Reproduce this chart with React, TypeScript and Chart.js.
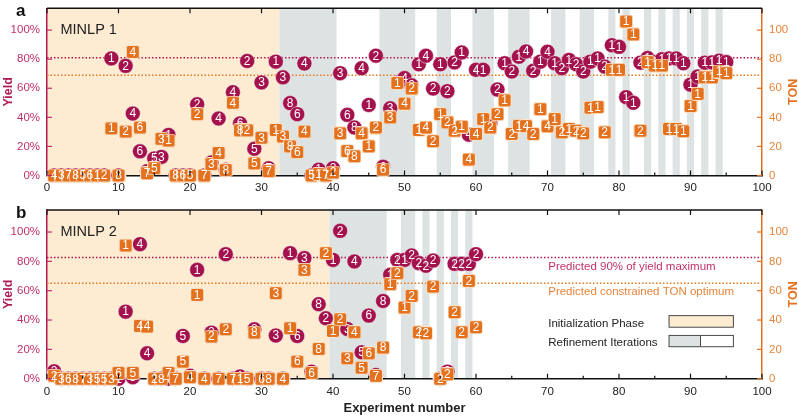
import React, { useEffect, useRef } from 'react';
import { Chart, registerables } from 'chart.js';
Chart.register(...registerables);

const FONT = "'Liberation Sans', Arial, Helvetica, sans-serif";
const CRIMSON = '#a3124d';
const CRIMSON_TEXT = '#c0306a';
const ORANGE = '#e3711e';
const ORANGE_TEXT = '#e8843a';
const PEACH = '#fdebd2';
const GRAY_BAND = '#dce3e2';
const DARK = '#222222';

// ---------- Panel a (MINLP 1) ----------
const expA = [1,2,3,4,5,6,7,8,9,10,11,12,13,14,15,16,17,18,19,20,21,22,23,24,25,26,27,28,29,30,31,32,33,34,35,36,37,38,39,40,41,42,43,44,45,46,47,48,49,50,51,52,53,54,55,56,57,58,59,60,61,62,63,64,65,66,67,68,69,70,71,72,73,74,75,76,77,78,79,80,81,82,83,84,85,86,87,88,89,90,91,92,93,94,95];
const yieldA = [0,0,0,0,0,0,0,0,80.5,0,75.4,42.6,16.6,3,11.7,12.8,27.9,0,0,0,49,0,9,39.2,4,57.3,35.8,78.8,18.4,64,5,78.3,67.5,49.8,42.2,77,0,4,0,5,70.4,41.7,33,73.8,48.5,82.4,6,46.2,64,67,62,76.5,82.4,59.8,76.5,58,77.8,84.6,28.1,72.7,72.7,36,59.1,77.2,71.5,81.7,85.3,72,78.3,85.1,77.2,73.8,79.5,76.5,71.5,78.3,80.5,74.9,89.6,88.5,53.9,50,77.6,80.8,78,80,80.5,80.5,77.2,62.5,68.1,77.6,77.8,79,78];
const tonA = [0,0,0,0,0,0,0,0,32.4,0,30.2,85,33,1.5,5,25.2,24,0,0,0,42.2,0,7.8,15.5,3.7,50,31,31,8.3,26,3,31.3,26.8,20,16.1,30.2,0,1,0,2,29,16.8,13.2,29,20,33,4,39.9,63.6,49.4,59.8,31.3,33,23.6,42.2,36.5,30.8,33.6,11,28.6,38.8,33,42.2,51.7,28.6,34.2,34,28.6,45.6,33.8,38.8,29.7,32,30.8,29,46.6,47.1,29.7,72.7,72.7,105.9,97,30.8,78,75.6,75.6,32,32,30.4,47.8,56.1,67.5,67.5,71.5,70.4];
const yieldLabelsA = ['4','3','7','8','5','6','1','2','1','8','2','4','6','7','5','3','1','8','6','5','2','7','3','4','8','4','6','2','5','3','7','1','3','8','6','4','5','1','7','2','3','6','8','4','1','2','6','3','1','4','2','1','4','2','1','2','2','1','4','4','1','2','2','1','2','1','4','2','1','4','1','2','1','2','2','1','1','2','1','1','1','1','2','1','1','1','1','1','1','1','1','1','1','1','1'];
const tonLabelsA = ['4','3','7','8','5','6','1','2','1','8','2','4','6','7','5','3','1','8','6','5','2','7','3','4','8','4','8','2','5','3','7','1','3','8','6','4','5','1','7','2','3','6','8','4','1','2','6','3','1','4','2','1','4','2','1','2','2','1','4','4','1','2','2','1','2','1','4','2','1','4','1','2','1','2','2','1','1','2','1','1','1','1','2','1','1','1','1','1','1','1','1','1','1','1','1'];
const initEndA = 32.5;
const bandsA = [[32.5,40.5],[46.5,51.5],[54.5,56.5],[59.5,62.5],[64.5,67.5],[70.5,72.5],[74.5,76.5],[78.5,79.5],[80.5,81.5],[83.5,84.5],[85.5,86.5],[87.5,88.5],[89.5,90.5],[91.5,92.5],[93.5,94.5]];
const yieldRefA = 81;
const tonRefA = 69;

// ---------- Panel b (MINLP 2) ----------
const expB = [1,2,3,4,5,6,7,8,9,10,11,12,13,14,15,16,17,18,19,20,21,22,23,24,25,26,27,28,29,30,31,32,33,34,35,36,37,38,39,40,41,42,43,44,45,46,47,48,49,50,51,52,53,54,55,56,57,58,59,60];
const yieldB = [5,0,0,0,0,0,0,0,0,0,45.7,1,91.7,17.3,0,0,0,0,29.1,2,74.2,0,31.4,0,84.9,0,1.5,0,33.7,0,0,29.4,0,85.6,29.1,82.2,4.8,50.8,41.2,81,100.8,33.9,79.9,18,43,2.5,53,70.8,81,81,84,78.8,77,80.5,0,4.8,78.3,78.3,78.3,84.9];
const tonB = [2,0,0,0,0,0,0,0,0,4,90.8,4,36,35.5,0,0,4,0,11.6,1,57.1,0,28.7,0,33.7,0,0,0,31.4,0,0,58.3,0,34.4,11.6,74.2,4,20.3,85.6,32.6,40.5,13.9,31.7,7.5,17.3,2,21.2,64.4,71.9,48.5,56.5,31.7,31,62.8,0,3,45.3,31.7,66.7,35.1];
const yieldLabelsB = ['2','3','6','8','7','3','5','5','3','1','1','5','4','4','2','8','7','7','5','4','1','4','2','7','2','7','1','5','8','6','8','3','4','1','6','3','6','8','2','1','2','3','4','5','6','7','8','1','2','1','2','2','2','2','2','2','2','2','2','2'];
const tonLabelsB = ['2','3','6','8','7','3','5','5','3','6','1','5','4','4','2','8','7','7','5','4','1','4','2','7','2','7','1','5','8','6','8','3','4','1','6','3','6','8','2','1','2','3','4','5','6','7','8','1','2','1','2','2','2','2','2','2','2','2','2','2'];
const initEndB = 39.5;
const bandsB = [[39.5,47.5],[49.5,51.5],[52.5,53.5],[54.5,55.5],[56.5,57.5],[58.5,59.5]];
const yieldRefB = 82.6;
const tonRefB = 65.1;

const xTickValues = [0,10,20,30,40,50,60,70,80,90,100];
const xMinorValues = [5,15,25,35,45,55,65,75,85,95];
const yTickValues = [0,20,40,60,80,100];

function makeSquare(size: number, r: number, fill: string, stroke: string) {
  const c = document.createElement('canvas');
  c.width = size; c.height = size;
  const g = c.getContext('2d')!;
  g.beginPath();
  const x = 0.5, y = 0.5, w = size - 1, h = size - 1;
  g.moveTo(x + r, y);
  g.lineTo(x + w - r, y); g.arcTo(x + w, y, x + w, y + r, r);
  g.lineTo(x + w, y + h - r); g.arcTo(x + w, y + h, x + w - r, y + h, r);
  g.lineTo(x + r, y + h); g.arcTo(x, y + h, x, y + h - r, r);
  g.lineTo(x, y + r); g.arcTo(x, y, x + r, y, r);
  g.closePath();
  g.fillStyle = fill; g.fill();
  g.strokeStyle = stroke; g.lineWidth = 1; g.stroke();
  return c;
}

type PanelCfg = {
  exp: number[]; yields: number[]; tons: number[]; yLabels: string[]; tLabels: string[];
  initEnd: number; bands: number[][]; yieldRef: number; tonRef: number;
  letter: string; title: string; height: number; top: number; padTop: number; xAxisH: number;
  tickPad: number; showLegend: boolean; showXTitle: boolean;
};

function Panel({ cfg }: { cfg: PanelCfg }) {
  const ref = useRef<HTMLCanvasElement>(null);
  useEffect(() => {
    const canvas = ref.current!;
    const square = makeSquare(14, 2.2, ORANGE, 'rgba(255,236,214,0.9)');

    const markLabels = {
      id: 'markLabels',
      afterDatasetDraw(chart: any, args: any) {
        const ds: any = chart.data.datasets[args.index];
        const labels: string[] = ds.markLabels || [];
        const ctx = chart.ctx;
        ctx.save();
        ctx.font = `12px ${FONT}`;
        ctx.fillStyle = '#ffffff';
        ctx.textAlign = 'center';
        ctx.textBaseline = 'middle';
        args.meta.data.forEach((el: any, i: number) => {
          ctx.fillText(labels[i], el.x, el.y + 0.5);
        });
        ctx.restore();
      },
    };

    const decor = {
      id: 'decor',
      beforeDraw(chart: any) {
        const { ctx, chartArea: a, scales } = chart;
        const xs = scales.x;
        ctx.save();
        ctx.fillStyle = PEACH;
        ctx.fillRect(a.left, a.top, xs.getPixelForValue(cfg.initEnd) - a.left, a.bottom - a.top);
        ctx.fillStyle = GRAY_BAND;
        cfg.bands.forEach(([s, e]) => {
          const x0 = xs.getPixelForValue(s), x1 = xs.getPixelForValue(e);
          ctx.fillRect(x0, a.top, x1 - x0, a.bottom - a.top);
        });
        ctx.restore();
      },
      beforeDatasetsDraw(chart: any) {
        const { ctx, chartArea: a, scales } = chart;
        ctx.save();
        ctx.lineWidth = 1.5;
        ctx.setLineDash([1.5, 2]);
        const yy = scales.y.getPixelForValue(cfg.yieldRef);
        ctx.strokeStyle = '#b3174f';
        ctx.beginPath(); ctx.moveTo(a.left, yy); ctx.lineTo(a.right, yy); ctx.stroke();
        const yt = scales.y2.getPixelForValue(cfg.tonRef);
        ctx.strokeStyle = '#ea7a22';
        ctx.beginPath(); ctx.moveTo(a.left, yt); ctx.lineTo(a.right, yt); ctx.stroke();
        ctx.restore();
      },
      afterDraw(chart: any) {
        const { ctx, chartArea: a, scales } = chart;
        const xs = scales.x, ys = scales.y, y2 = scales.y2;
        ctx.save();
        // top frame
        ctx.strokeStyle = '#111';
        ctx.lineWidth = 1.5;
        ctx.beginPath(); ctx.moveTo(a.left, a.top); ctx.lineTo(a.right, a.top); ctx.stroke();
        // x ticks (inward)
        ctx.lineWidth = 1.2;
        xTickValues.forEach(v => {
          const px = xs.getPixelForValue(v);
          ctx.beginPath(); ctx.moveTo(px, a.bottom); ctx.lineTo(px, a.bottom - 5); ctx.stroke();
          ctx.beginPath(); ctx.moveTo(px, a.top); ctx.lineTo(px, a.top + 5); ctx.stroke();
        });
        xMinorValues.forEach(v => {
          const px = xs.getPixelForValue(v);
          ctx.beginPath(); ctx.moveTo(px, a.bottom); ctx.lineTo(px, a.bottom - 3); ctx.stroke();
        });
        // y ticks
        yTickValues.forEach(v => {
          const py = ys.getPixelForValue(v);
          ctx.strokeStyle = CRIMSON_TEXT;
          ctx.beginPath(); ctx.moveTo(a.left, py); ctx.lineTo(a.left + 5, py); ctx.stroke();
          const pt = y2.getPixelForValue(v);
          ctx.strokeStyle = ORANGE;
          ctx.beginPath(); ctx.moveTo(a.right, pt); ctx.lineTo(a.right - 5, pt); ctx.stroke();
        });
        const midY = (a.top + a.bottom) / 2;
        // panel letter
        ctx.fillStyle = '#111';
        ctx.font = `bold 17px ${FONT}`;
        ctx.textAlign = 'left';
        ctx.textBaseline = 'alphabetic';
        ctx.fillText(cfg.letter, 16, a.top + 8);
        // panel title
        ctx.font = `14.5px ${FONT}`;
        ctx.fillStyle = DARK;
        ctx.fillText(cfg.title, 60.5, a.top + 25.5);
        // Yield title
        ctx.save();
        ctx.translate(8.5, midY);
        ctx.rotate(-Math.PI / 2);
        ctx.textAlign = 'center';
        ctx.textBaseline = 'middle';
        ctx.font = `bold 12.5px ${FONT}`;
        ctx.fillStyle = '#b01c55';
        ctx.fillText('Yield', 0, 0);
        ctx.restore();
        // TON title
        ctx.save();
        ctx.translate(793.5, midY);
        ctx.rotate(-Math.PI / 2);
        ctx.textAlign = 'center';
        ctx.textBaseline = 'middle';
        ctx.font = `bold 12.5px ${FONT}`;
        ctx.fillStyle = ORANGE;
        ctx.fillText('TON', 0, 0);
        ctx.restore();
        if (cfg.showXTitle) {
          ctx.font = `bold 13px ${FONT}`;
          ctx.fillStyle = DARK;
          ctx.textAlign = 'center';
          ctx.textBaseline = 'middle';
          ctx.fillText('Experiment number', (a.left + a.right) / 2, a.bottom + 29.5);
        }
        if (cfg.showLegend) {
          const tx = xs.getPixelForValue(70.1);
          ctx.font = `11.5px ${FONT}`;
          ctx.textAlign = 'left';
          ctx.textBaseline = 'alphabetic';
          ctx.fillStyle = CRIMSON_TEXT;
          ctx.fillText('Predicted 90% of yield maximum', tx, ys.getPixelForValue(74.4));
          ctx.fillStyle = ORANGE_TEXT;
          ctx.fillText('Predicted constrained TON optimum', tx, ys.getPixelForValue(57.3));
          ctx.fillStyle = DARK;
          ctx.fillText('Initialization Phase', tx, ys.getPixelForValue(35.5));
          ctx.fillText('Refinement Iterations', tx, ys.getPixelForValue(22.5));
          const bx0 = xs.getPixelForValue(87), bx1 = xs.getPixelForValue(96), bxm = xs.getPixelForValue(91.4);
          const b1t = ys.getPixelForValue(43), b1b = ys.getPixelForValue(35.1);
          const b2t = ys.getPixelForValue(29.5), b2b = ys.getPixelForValue(21.8);
          ctx.lineWidth = 1;
          ctx.strokeStyle = '#4a4a4a';
          ctx.fillStyle = PEACH;
          ctx.fillRect(bx0, b1t, bx1 - bx0, b1b - b1t);
          ctx.strokeRect(bx0, b1t, bx1 - bx0, b1b - b1t);
          ctx.fillStyle = '#ffffff';
          ctx.fillRect(bx0, b2t, bx1 - bx0, b2b - b2t);
          ctx.fillStyle = GRAY_BAND;
          ctx.fillRect(bx0, b2t, bxm - bx0, b2b - b2t);
          ctx.strokeRect(bx0, b2t, bx1 - bx0, b2b - b2t);
          ctx.beginPath(); ctx.moveTo(bxm, b2t); ctx.lineTo(bxm, b2b); ctx.stroke();
        }
        ctx.restore();
      },
    };

    const chart = new Chart(canvas, {
      type: 'scatter',
      data: {
        datasets: [
          {
            label: 'TON',
            data: cfg.exp.map((x, i) => ({ x, y: cfg.tons[i] })),
            yAxisID: 'y2',
            pointStyle: square as any,
            pointRadius: 7,
            clip: false as any,
            markLabels: cfg.tLabels,
          } as any,
          {
            label: 'Yield',
            data: cfg.exp.map((x, i) => ({ x, y: cfg.yields[i] })),
            yAxisID: 'y',
            pointStyle: 'circle',
            pointRadius: 7.5,
            backgroundColor: CRIMSON,
            borderColor: 'rgba(255,255,255,0.6)',
            borderWidth: 0.8,
            clip: false as any,
            markLabels: cfg.yLabels,
          } as any,
        ],
      },
      options: {
        responsive: false,
        animation: false,
        events: [],
        devicePixelRatio: 1,
        layout: { padding: { top: cfg.padTop, left: 0, right: 0, bottom: 0 } },
        plugins: { legend: { display: false }, tooltip: { enabled: false } },
        scales: {
          x: {
            type: 'linear', min: 0, max: 100, position: 'bottom',
            grid: { display: false, drawTicks: false },
            border: { color: '#111', width: 1.5 },
            ticks: { stepSize: 10, color: DARK, font: { size: 11.5, family: FONT }, padding: cfg.tickPad, maxRotation: 0, autoSkip: false, includeBounds: false },
            afterFit: (s: any) => { s.height = cfg.xAxisH; s.paddingLeft = 0; s.paddingRight = 0; },
          },
          y: {
            type: 'linear', min: 0, max: 115, position: 'left',
            grid: { display: false, drawTicks: false },
            border: { color: '#b3174f', width: 1.5 },
            ticks: { stepSize: 20, color: CRIMSON_TEXT, font: { size: 11.5, family: FONT }, padding: 7, includeBounds: false, callback: (v: any) => v + '%' },
            afterFit: (s: any) => { s.width = 47; s.paddingTop = 0; s.paddingBottom = 0; },
          },
          y2: {
            type: 'linear', min: 0, max: 115, position: 'right',
            grid: { display: false, drawTicks: false },
            border: { color: ORANGE, width: 1.5 },
            ticks: { stepSize: 20, color: ORANGE_TEXT, font: { size: 11.5, family: FONT }, padding: 7, includeBounds: false },
            afterFit: (s: any) => { s.width = 37; s.paddingTop = 0; s.paddingBottom = 0; },
          },
        },
      } as any,
      plugins: [decor, markLabels],
    });
    return () => chart.destroy();
  }, []);
  return (
    <div style={{ position: 'absolute', left: 0, top: cfg.top, width: 799, height: cfg.height }}>
      <canvas ref={ref} width={799} height={cfg.height} style={{ display: 'block', width: 799, height: cfg.height }} />
    </div>
  );
}

const panelA: PanelCfg = {
  exp: expA, yields: yieldA, tons: tonA, yLabels: yieldLabelsA, tLabels: tonLabelsA,
  initEnd: initEndA, bands: bandsA, yieldRef: yieldRefA, tonRef: tonRefA,
  letter: 'a', title: 'MINLP 1', height: 196, top: 0, padTop: 5.3, xAxisH: 20.5,
  tickPad: 5, showLegend: false, showXTitle: false,
};
const panelB: PanelCfg = {
  exp: expB, yields: yieldB, tons: tonB, yLabels: yieldLabelsB, tLabels: tonLabelsB,
  initEnd: initEndB, bands: bandsB, yieldRef: yieldRefB, tonRef: tonRefB,
  letter: 'b', title: 'MINLP 2', height: 222, top: 196, padTop: 14, xAxisH: 39.3,
  tickPad: 6, showLegend: true, showXTitle: true,
};

export default function App() {
  return (
    <div style={{ position: 'fixed', left: 0, top: 0, width: 799, height: 418, background: '#ffffff', overflow: 'hidden' }}>
      <Panel cfg={panelA} />
      <Panel cfg={panelB} />
    </div>
  );
}
